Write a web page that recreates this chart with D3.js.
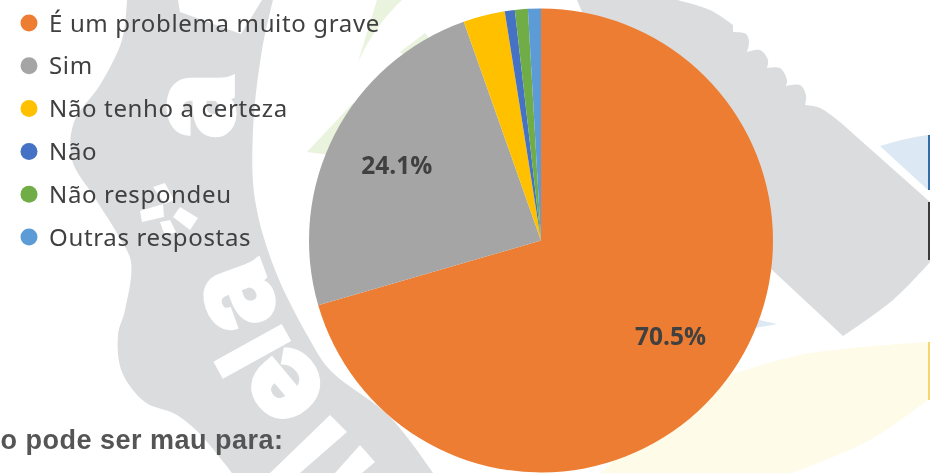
<!DOCTYPE html>
<html lang="pt">
<head>
<meta charset="utf-8">
<script src="https://cdn.jsdelivr.net/npm/d3@7"></script>
<style>
html,body{margin:0;padding:0;background:#fff;overflow:hidden}
svg{display:block}
</style>
</head>
<body>
<svg id="chart" width="930" height="473"></svg>
<script>
const categories = ["É um problema muito grave","Sim","Não tenho a certeza","Não","Não respondeu","Outras respostas"];
const values = [70.5,24.1,2.9,0.7,0.9,0.9];
const colors = ["#ED7D31","#A5A5A5","#FFC000","#4472C4","#70AD47","#5B9BD5"];
const labelled = [true,true,false,false,false,false];
const footerText = "o pode ser mau para:";

const root = d3.select("#chart");
root.append("defs").append("filter").attr("id","soft")
  .attr("x",0).attr("y",0).attr("width",1).attr("height",1)
  .attr("filterUnits","objectBoundingBox")
  .append("feGaussianBlur").attr("stdDeviation",0.55);
const svg = root.append("g").attr("filter","url(#soft)");
svg.append("rect").attr("width",930).attr("height",473).attr("fill","#fff");
const cx = 541, cy = 240.5, R = 232;

/* faded watermark behind the chart */
const bg = svg.append("g");
const line = d3.line().curve(d3.curveCatmullRom.alpha(0.5));
const seg = pts => line(pts).replace(/^M/,"L");
const grey = "#DBDCDE";
bg.append("path").attr("fill",grey).attr("d",
  line([[127,0],[122,40],[100,85],[74,122],[72,160],[95,198],[118,235],[131,262],[125,310],[118,335],[122,372],[145,402],[175,414],[198,432],[232,473]])
  + "L433,473" + seg([[433,473],[390,417],[330,370],[310,340],[275,270],[255,200],[253,130],[262,50],[273,0]]) + "Z");
bg.append("path").attr("fill",grey).attr("d",
  "M577,0L677,0" + seg([[677,0],[710,10],[733,25]])
  + seg([[733,32],[746,34],[749,42],[747,52]])
  + seg([[747,52],[760,50],[768,60],[767,68]])
  + seg([[767,68],[780,68],[787,80],[786,86]])
  + seg([[786,86],[800,85],[806,95],[805,105]])
  + seg([[805,105],[820,108],[840,122]])
  + "L930,202L930,262" + seg([[930,262],[893,300],[843,336]])
  + "L770,268L620,100Z");
bg.append("path").attr("fill","#DCE9F4").attr("d","M880,146Q905,138 928,135L928,190Z");
bg.append("path").attr("fill","#DCE9F4").attr("d","M750,329L777,324L755,319Z");
bg.append("path").attr("fill","#FEFBE9").attr("d",
  "M700,385" + seg([[700,385],[800,355],[928,342]])
  + "L928,400" + seg([[928,400],[870,440],[793,473]]) + "L600,473Z");
bg.append("path").attr("fill","#EAF3DD").attr("d","M358,62L377,0L402,0Q375,25 358,62Z");
bg.append("path").attr("fill","#EAF3DD").attr("d","M307,152L353,103L360,110L330,155Z");
bg.append("path").attr("fill","#EAF3DD").attr("d","M400,52L425,33L432,42L410,60Z");
bg.append("rect").attr("x",928).attr("y",135).attr("width",2).attr("height",55).attr("fill","#2F6EA5");
bg.append("rect").attr("x",928).attr("y",202).attr("width",2).attr("height",58).attr("fill","#3A3A3C");
bg.append("rect").attr("x",928).attr("y",342).attr("width",2).attr("height",58).attr("fill","#F5D76E");

const wmLetters = [
  {t:"a",x:184,y:106,r:-90,s:122},
  {t:"a",x:222,y:303,r:-110,s:122},
  {t:"l",x:255,y:350,r:-119,s:100},
  {t:"e",x:273,y:397,r:-130,s:122}
];
bg.selectAll("text.wm").data(wmLetters).join("text")
  .attr("class","wm")
  .attr("text-anchor","middle").attr("dominant-baseline","central")
  .attr("dy",d=>d.t==="l"?"0":"0.07em")
  .attr("font-family","Roboto").attr("font-weight",900)
  .attr("font-size",d=>d.s).attr("fill","#fff")
  .attr("stroke","#fff").attr("stroke-width",3)
  .attr("transform",d=>`translate(${d.x},${d.y}) rotate(${d.r})`)
  .text(d=>d.t);
/* letter strokes cut by the picture's edge, and the small star */
bg.selectAll("path.cut").data([
  "M178,0L262,0L241,34L180,12Z",
  "M330,415L347,432L300,473L270,473Z",
  "M360,445L375,462L362,473L335,473Z",
  "M140,211L163,204L164,217L142,222Z",
  "M153,187L165,183L174,200L165,204Z",
  "M180,207L198,218L190,230L173,217Z",
  "M160,222L170,220L176,232L165,236Z"
]).join("path").attr("class","cut").attr("fill","#fff").attr("d",d=>d);

/* pie */
const pie = d3.pie().value(d=>d).sort(null);
const arcs = pie(values);
const arc = d3.arc().innerRadius(0).outerRadius(R);
const labelArc = d3.arc().innerRadius(162).outerRadius(162);
const g = svg.append("g").attr("transform",`translate(${cx},${cy})`);
g.selectAll("path").data(arcs).join("path")
  .attr("d",arc).attr("fill",(d,i)=>colors[i]);
g.selectAll("text").data(arcs.filter((d,i)=>labelled[i])).join("text")
  .attr("transform",d=>{const c=labelArc.centroid(d);return `translate(${c[0]},${c[1]-2})`;})
  .attr("text-anchor","middle").attr("dominant-baseline","central")
  .attr("font-family","'Open Sans'").attr("font-weight",700).attr("font-size",24.5)
  .attr("fill","#404040")
  .text(d=>d.value.toFixed(1)+"%");

/* legend */
const ly = d3.scalePoint().domain(categories).range([23,237]);
const lg = svg.append("g");
lg.selectAll("circle").data(categories).join("circle")
  .attr("cx",29).attr("cy",d=>ly(d)).attr("r",8.5)
  .attr("fill",(d,i)=>colors[i]);
lg.selectAll("text").data(categories).join("text")
  .attr("x",49).attr("y",d=>ly(d)+8.5)
  .attr("font-family","'Noto Sans'").attr("font-size",24)
  .attr("letter-spacing",0.65).attr("fill","#404040")
  .text(d=>d);

svg.append("text").attr("x",0.5).attr("y",449)
  .attr("font-family","'Liberation Sans'").attr("font-weight",700).attr("font-size",27)
  .attr("letter-spacing",0.5)
  .attr("fill","#555").text(footerText);
</script>
</body>
</html>
